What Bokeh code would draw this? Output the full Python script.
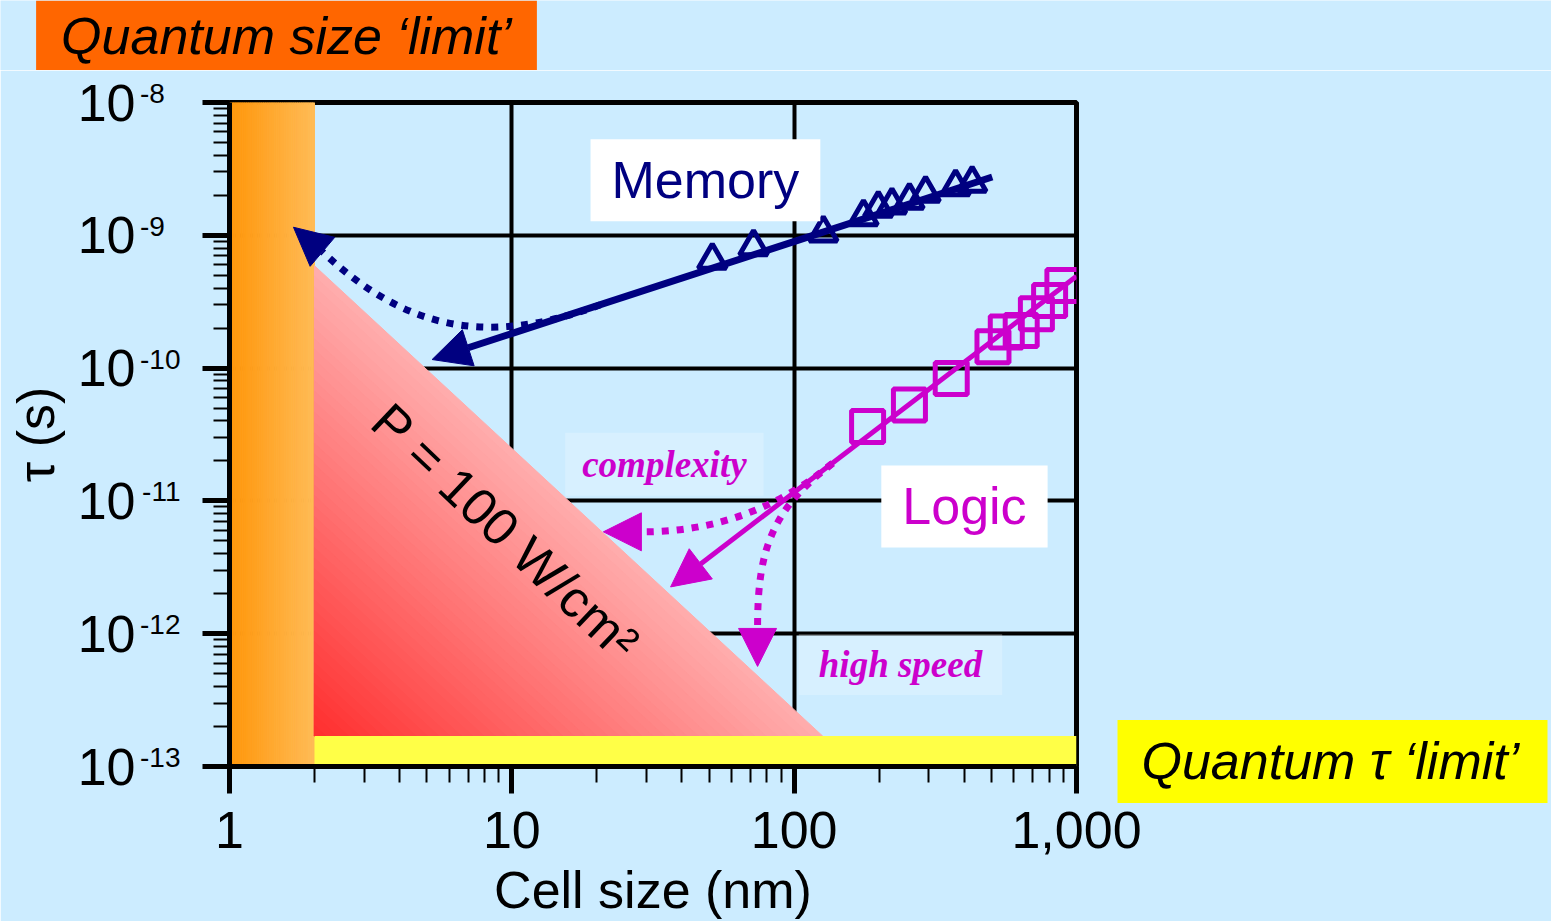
import numpy as np
from bokeh.plotting import figure
from bokeh.layouts import column, row
from bokeh.models import (Label, Arrow, NormalHead, FixedTicker, Range1d, NumeralTickFormatter,
                          LogAxis)
from bokeh.embed import file_html
from bokeh.resources import INLINE

# ---- measured switching times (s) versus cell size (nm) ----
memory_size_nm = [51.3, 71.8, 126.8, 176, 198.6, 222, 256, 292, 373, 427]
memory_tau_s = [6.5e-10, 8.2e-10, 1.04e-9, 1.38e-9, 1.60e-9, 1.69e-9, 1.84e-9, 2.08e-9, 2.32e-9, 2.47e-9]

logic_size_nm = [182, 256, 360, 506, 564, 637, 721, 803, 895]
logic_tau_s = [3.63e-11, 5.27e-11, 8.36e-11, 1.445e-10, 1.87e-10, 1.92e-10, 2.57e-10, 3.23e-10, 4.19e-10]

# scaling trends, drawn from the large-cell end towards the arrow tip
memory_trend_size = [503, 5.22]
memory_trend_tau = [2.75e-9, 1.16e-10]
logic_trend_size = [1000, 36.5]
logic_trend_tau = [4.91e-10, 2.25e-12]

# limits
quantum_size_limit_nm = 2.0
quantum_tau_limit_s = 1.7e-13
power_limit_tau_at_size_limit = 5.9e-10   # P = 100 W/cm^2 line meets the size limit
power_limit_size_at_tau_limit = 126.0     # ... and the tau limit

# axes
x_min, x_max = 1, 1000
y_min, y_max = 1e-13, 1e-8
x_ticks = [1, 10, 100, 1000]
y_ticks = [1e-13, 1e-12, 1e-11, 1e-10, 1e-9, 1e-8]
y_exponents = ["-13", "-12", "-11", "-10", "-9\u00a0\u00a0", "-8\u00a0\u00a0"]

# caption placed beside the frame, level with the tau limit band
tau_caption_y = 1.1e-13
tau_caption = "Quantum τ ‘limit’"
size_caption = "Quantum size ‘limit’"

BG = "#CCECFF"
NAVY = "#000080"
MAGENTA = "#CC00CC"
SANS = "Liberation Sans"
SERIF = "Liberation Serif"

# ---------------- main chart ----------------
p = figure(width=1551, height=851, x_axis_type="log", y_axis_type="log",
           x_range=Range1d(x_min, x_max), y_range=Range1d(y_min, y_max),
           output_backend="svg", toolbar_location=None,
           min_border_left=229, min_border_right=475, min_border_top=32, min_border_bottom=153,
           background_fill_color=BG, border_fill_color=BG)
p.outline_line_color = "black"
p.outline_line_width = 5

x_minor = [m * 10.0 ** k for k in range(0, 3) for m in range(2, 10)]
y_minor = [m * 10.0 ** k for k in range(-13, -8) for m in range(2, 10)]
p.xaxis.ticker = FixedTicker(ticks=x_ticks, minor_ticks=x_minor)
p.yaxis.ticker = FixedTicker(ticks=y_ticks, minor_ticks=y_minor)
p.xgrid.ticker = FixedTicker(ticks=x_ticks)
p.ygrid.ticker = FixedTicker(ticks=y_ticks)
for g in (p.xgrid, p.ygrid):
    g.grid_line_color = "black"
    g.grid_line_width = 4

for ax in (p.xaxis, p.yaxis):
    ax.axis_line_color = "black"
    ax.axis_line_width = 5
    ax.major_tick_line_color = "black"
    ax.major_tick_line_width = 5
    ax.major_tick_out = 27
    ax.major_tick_in = 0
    ax.minor_tick_line_color = "black"
    ax.minor_tick_line_width = 2
    ax.minor_tick_out = 16
    ax.minor_tick_in = 0
    ax.major_label_text_font = SANS
    ax.major_label_text_color = "black"
    ax.axis_label_text_font = SANS
    ax.axis_label_text_font_size = "52px"
    ax.axis_label_text_font_style = "normal"
    ax.axis_label_text_color = "black"

p.xaxis.major_label_text_font_size = "52px"
p.xaxis.formatter = NumeralTickFormatter(format="0,0")
p.xaxis.major_label_standoff = 18
p.xaxis.axis_label = "Cell size (nm)"
p.xaxis.axis_label_standoff = 10

# inner y axis carries only the ticks
p.yaxis.major_label_overrides = {v: "" for v in y_ticks}
p.yaxis.major_label_standoff = 0

label_axis_style = dict(axis_line_color=None, major_tick_line_color=None, minor_tick_line_color=None,
                        major_tick_out=0, major_tick_in=0, minor_tick_out=0, minor_tick_in=0,
                        major_label_text_font=SANS, major_label_text_color="black")

# exponents; the blank second line lifts each one into superscript position
exp_axis = LogAxis(ticker=FixedTicker(ticks=y_ticks),
                   major_label_overrides={v: e + "\n\u00a0" for v, e in zip(y_ticks, y_exponents)},
                   major_label_text_font_size="28px", major_label_text_line_height=0.58,
                   major_label_standoff=22, **label_axis_style)
p.add_layout(exp_axis, "left")

# base "10" of each power of ten, plus the axis title
base_axis = LogAxis(ticker=FixedTicker(ticks=y_ticks),
                    major_label_overrides={v: "10" for v in y_ticks},
                    major_label_text_font_size="52px", major_label_standoff=2,
                    axis_label="τ (s)", axis_label_text_font=SANS, axis_label_text_font_size="52px",
                    axis_label_text_font_style="normal", axis_label_text_color="black",
                    axis_label_standoff=10, **label_axis_style)
p.add_layout(base_axis, "left")

# caption on the right: one wide yellow tick behind its own tick label
caption_axis = LogAxis(ticker=FixedTicker(ticks=[tau_caption_y], minor_ticks=[]),
                       major_label_overrides={tau_caption_y: tau_caption},
                       axis_line_color=None, minor_tick_line_color=None,
                       major_tick_line_color="#FFFF00", major_tick_line_width=83,
                       major_tick_in=-41, major_tick_out=471,
                       major_label_standoff=-406, major_label_text_font=SANS,
                       major_label_text_font_style="italic", major_label_text_font_size="52px",
                       major_label_text_color="black")
p.add_layout(caption_axis, "right")

# ---- quantum size limit: vertical band with a horizontal orange gradient ----
n_strips = 40
edges = np.logspace(np.log10(x_min), np.log10(quantum_size_limit_nm), n_strips + 1)
c0, c1 = np.array([255, 150, 10]), np.array([255, 187, 85])
strip_colors = ["#%02x%02x%02x" % tuple(np.round(c0 + (c1 - c0) * t).astype(int))
                for t in np.linspace(0, 1, n_strips)]
p.quad(left=edges[:-1], right=edges[1:], bottom=y_min, top=y_max,
       fill_color=strip_colors, line_color=strip_colors, line_width=1)

# ---- power limit triangle, shaded from the corner outwards ----
n_tri = 45
lx0, ly0 = np.log10(quantum_size_limit_nm), np.log10(quantum_tau_limit_s)
lx1 = np.log10(power_limit_size_at_tau_limit)
ly1 = np.log10(power_limit_tau_at_size_limit)
pink, red = np.array([255, 172, 172]), np.array([255, 45, 45])
tri_xs, tri_ys, tri_colors = [], [], []
for t in np.linspace(1, 1.0 / n_tri, n_tri):
    tri_xs.append([quantum_size_limit_nm, 10 ** (lx0 + t * (lx1 - lx0)), quantum_size_limit_nm])
    tri_ys.append([10 ** (ly0 + t * (ly1 - ly0)), quantum_tau_limit_s, quantum_tau_limit_s])
    tri_colors.append("#%02x%02x%02x" % tuple(np.round(red + (pink - red) * t).astype(int)))
p.patches(tri_xs, tri_ys, fill_color=tri_colors, line_color=tri_colors, line_width=1)

# ---- quantum tau limit band ----
p.quad(left=quantum_size_limit_nm, right=x_max, bottom=y_min, top=quantum_tau_limit_s,
       fill_color="#FFFF47", line_color=None)

# ---- italic annotations on faint boxes ----
p.add_layout(Label(x=34.7, y=1.89e-11, text="complexity", text_font=SERIF,
                   text_font_style="bold italic", text_font_size="37px", text_color=MAGENTA,
                   text_align="center", text_baseline="middle",
                   background_fill_color="white", background_fill_alpha=0.22, padding=(17, 11)))
p.add_layout(Label(x=238, y=5.87e-13, text="high speed", text_font=SERIF,
                   text_font_style="bold italic", text_font_size="37px", text_color=MAGENTA,
                   text_align="center", text_baseline="middle",
                   background_fill_color="white", background_fill_alpha=0.22, padding=(20, 10)))

# ---- dotted extrapolation curves ----
dot = dict(line_dash="7 8", line_cap="butt")
p.bezier(x0=[20.6], y0=[3.0e-10], x1=[2.135], y1=[7.5e-10],
         cx0=[7.75], cy0=[1.38e-10], cx1=[4.03], cy1=[2.12e-10],
         line_color=NAVY, line_width=7, **dot)
p.add_layout(Arrow(x_start=2.135, y_start=7.5e-10, x_end=1.685, y_end=1.15e-9,
                   line_alpha=0, line_width=1,
                   end=NormalHead(size=38, fill_color=NAVY, line_color=NAVY, line_width=1)))

p.bezier(x0=[136.8], y0=[1.92e-11], x1=[29.0], y1=[5.85e-12],
         cx0=[81.2], cy0=[7.7e-12], cx1=[47.4], cy1=[5.85e-12],
         line_color=MAGENTA, line_width=7, **dot)
p.add_layout(Arrow(x_start=29.0, y_start=5.85e-12, x_end=21.1, y_end=5.85e-12,
                   line_alpha=0, line_width=1,
                   end=NormalHead(size=38, fill_color=MAGENTA, line_color=MAGENTA, line_width=1)))

p.bezier(x0=[136.8], y0=[1.92e-11], x1=[74.2], y1=[1.13e-12],
         cx0=[83.8], cy0=[8.7e-12], cx1=[74.2], cy1=[4.36e-12],
         line_color=MAGENTA, line_width=7, **dot)
p.add_layout(Arrow(x_start=74.2, y_start=1.13e-12, x_end=74.2, y_end=5.67e-13,
                   line_alpha=0, line_width=1,
                   end=NormalHead(size=38, fill_color=MAGENTA, line_color=MAGENTA, line_width=1)))

# ---- trends with arrow heads ----
p.add_layout(Arrow(x_start=memory_trend_size[0], y_start=memory_trend_tau[0],
                   x_end=memory_trend_size[1], y_end=memory_trend_tau[1],
                   line_color=NAVY, line_width=7,
                   end=NormalHead(size=38, fill_color=NAVY, line_color=NAVY, line_width=1)))
p.add_layout(Arrow(x_start=logic_trend_size[0], y_start=logic_trend_tau[0],
                   x_end=logic_trend_size[1], y_end=logic_trend_tau[1],
                   line_color=MAGENTA, line_width=5,
                   end=NormalHead(size=38, fill_color=MAGENTA, line_color=MAGENTA, line_width=1)))

# ---- measured points ----
p.scatter(memory_size_nm, memory_tau_s, marker="triangle", size=28,
          fill_alpha=0, line_color=NAVY, line_width=5)
p.scatter(logic_size_nm, logic_tau_s, marker="square", size=32,
          fill_alpha=0, line_color=MAGENTA, line_width=5)

# ---- series labels ----
p.add_layout(Label(x=48.5, y=2.6e-9, text="Memory", text_font=SANS, text_font_size="52px",
                   text_color=NAVY, text_align="center", text_baseline="middle",
                   background_fill_color="white", padding=(21, 12)))
p.add_layout(Label(x=401, y=9.08e-12, text="Logic", text_font=SANS, text_font_size="52px",
                   text_color=MAGENTA, text_align="center", text_baseline="middle",
                   background_fill_color="white", padding=(21, 12)))

p.add_layout(Label(x=9.5, y=5.85e-12, text="P = 100 W/cm²", angle=-0.76,
                   text_font=SANS, text_font_size="52px", text_color="black",
                   text_align="center", text_baseline="middle"))

# ---------------- caption strip above the chart ----------------
top = figure(width=1551, height=70, x_range=Range1d(0, 1551), y_range=Range1d(0, 70),
             x_axis_location=None, y_axis_location=None, toolbar_location=None,
             output_backend="svg", min_border=0, background_fill_color=BG,
             border_fill_color=BG, outline_line_color=None)
top.xgrid.visible = False
top.ygrid.visible = False
top.add_layout(Label(x=286, y=35, text=size_caption, text_font=SANS,
                     text_font_style="italic", text_font_size="52px", text_color="black",
                     text_align="center", text_baseline="middle",
                     background_fill_color="#FF6600", padding=(25, 6)))

# the chart sits in its own row so the strip keeps its full-width frame
layout = column(top, row(p))
open("out.html", "w").write(file_html(layout, INLINE))
